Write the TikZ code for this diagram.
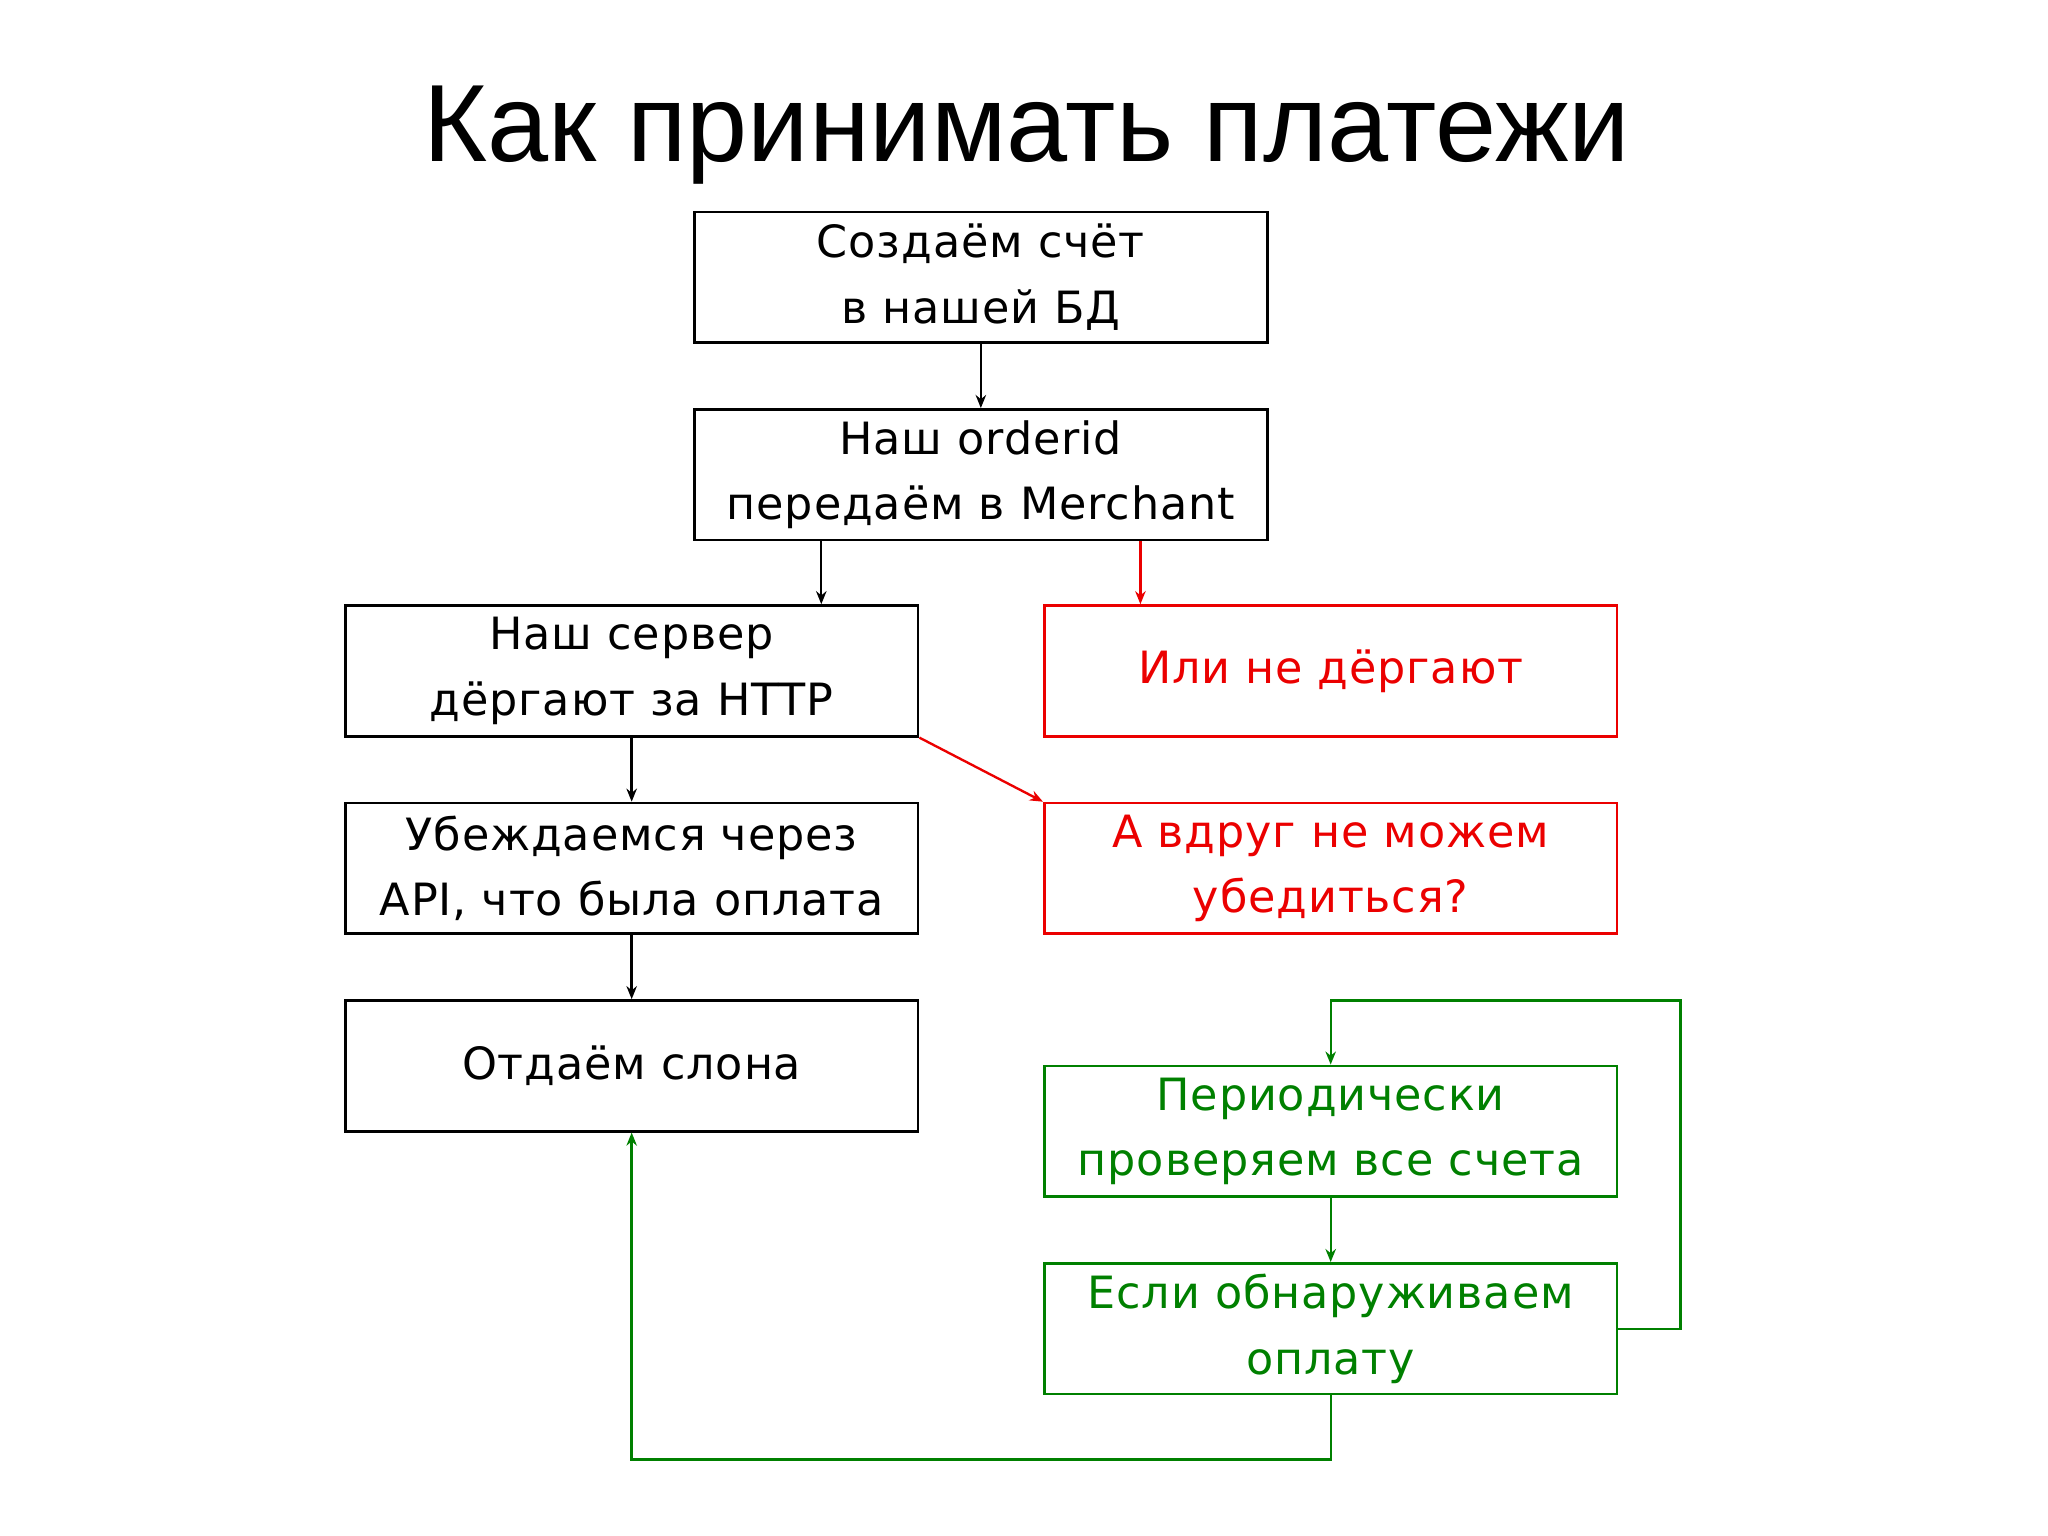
\documentclass[tikz,border=0pt]{standalone}
\usepackage{fontspec}
\setmainfont{DejaVu Sans}[LetterSpace=2]
\newfontfamily\titlefont{Liberation Sans}
\usetikzlibrary{arrows.meta}
\definecolor{rd}{RGB}{235,0,0}
\definecolor{gr}{RGB}{0,128,0}
\begin{document}
\begin{tikzpicture}[x=0.5pt,y=-0.5pt,
  bx/.style={draw,line width=1pt,minimum width=219pt,minimum height=50pt,inner sep=0pt,align=center,font=\fontsize{17}{25}\selectfont},
  ar/.style={-{Stealth[length=5pt,width=4pt]},line width=0.9pt}]
\useasboundingbox (0,0) rectangle (1566,1174);
\node[font=\titlefont\fontsize{42}{50}\selectfont] (t) at (785,103) {Как принимать платежи};
\node[bx] (b1) at (750,212) {Создаём счёт\\в нашей БД};
\node[bx] (b2) at (750,363) {Наш orderid\\передаём в Merchant};
\node[bx] (b3) at (483,513) {Наш сервер\\дёргают за HTTP};
\node[bx,draw=rd,text=rd] (r1) at (1017.5,513) {Или не дёргают};
\node[bx] (b4) at (483,664) {Убеждаемся через\\API, что была оплата};
\node[bx,draw=rd,text=rd] (r2) at (1017.5,664) {А вдруг не можем\\убедиться?};
\node[bx] (b5) at (483,815) {Отдаём слона};
\node[bx,draw=gr,text=gr] (g1) at (1017.5,865) {Периодически\\проверяем все счета};
\node[bx,draw=gr,text=gr] (g2) at (1017.5,1016) {Если обнаруживаем\\оплату};
\draw[ar] (b1) -- (b2);
\draw[ar] (b2.south -| 628,0) -- (b3.north -| 628,0);
\draw[ar,rd] (b2.south -| 872,0) -- (r1.north -| 872,0);
\draw[ar,rd] (b3.south east) -- (r2.north west);
\draw[ar] (b3) -- (b4);
\draw[ar] (b4) -- (b5);
\draw[ar,gr] (g1) -- (g2);
\coordinate (c1) at (1285,1016);
\coordinate (c2) at (1285,765);
\draw[ar,gr] (g2.east) -- (c1) -- (c2) -- (g1.north |- c2) -- (g1.north);
\coordinate (c3) at (1017.5,1116);
\draw[ar,gr] (g2.south) -- (c3) -- (b5.south |- c3) -- (b5.south);
\end{tikzpicture}
\end{document}
